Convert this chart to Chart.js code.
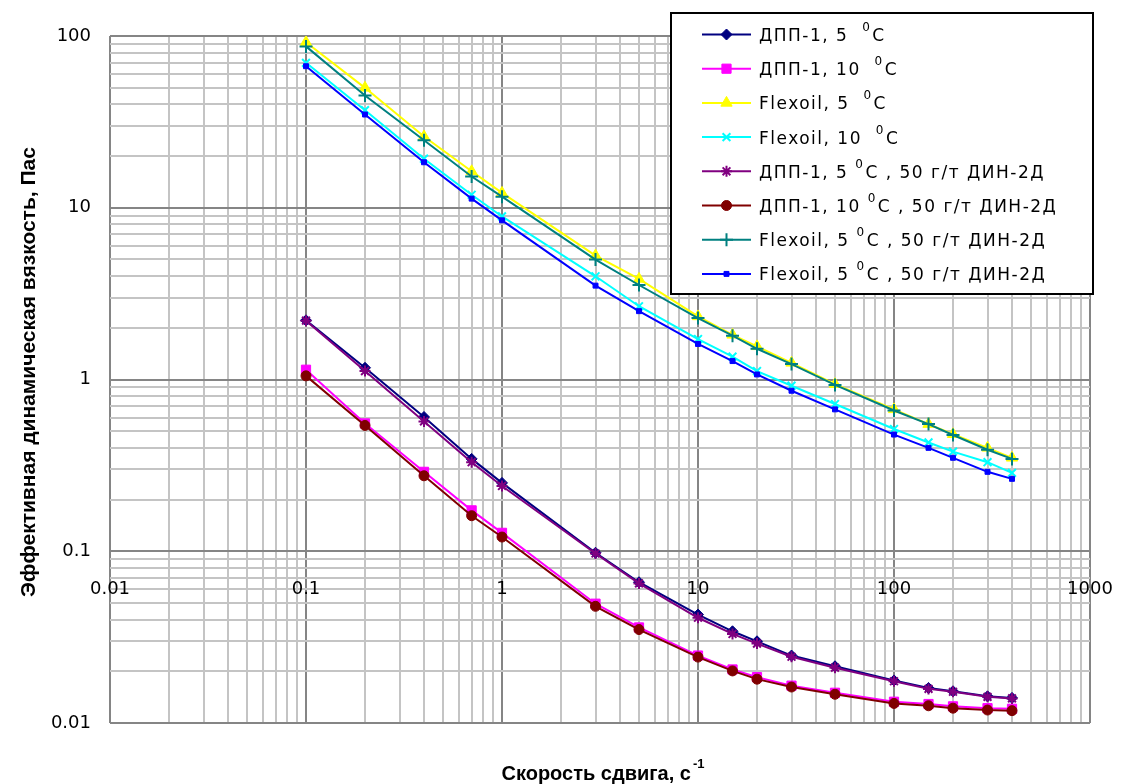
<!DOCTYPE html>
<html><head><meta charset="utf-8">
<script src="https://cdn.jsdelivr.net/npm/chart.js@4.4.1/dist/chart.umd.min.js"></script>
<style>html,body{margin:0;padding:0;background:#fff}canvas{display:block}</style>
</head><body>
<canvas id="c" width="1122" height="784"></canvas>
<script>
// ---- data ----
const shearRates = [0.1, 0.2, 0.4, 0.7, 1, 3, 5, 10, 15, 20, 30, 50, 100, 150, 200, 300, 400];
const dpp5 = [2.21, 1.17, 0.605, 0.345, 0.25, 0.098, 0.066, 0.0428, 0.0342, 0.0299, 0.0247, 0.0214, 0.0177, 0.016, 0.0153, 0.0143, 0.014];
const dpp10 = [1.14, 0.555, 0.29, 0.173, 0.128, 0.0495, 0.036, 0.0247, 0.0205, 0.0185, 0.0165, 0.015, 0.0133, 0.0129, 0.0125, 0.0122, 0.0121];
const flex5 = [92, 49.9, 26, 16.3, 12.2, 5.27, 3.85, 2.33, 1.82, 1.56, 1.25, 0.94, 0.67, 0.55, 0.48, 0.40, 0.35];
const flex10 = [69.8, 37, 19.3, 11.9, 8.9, 3.99, 2.67, 1.72, 1.36, 1.12, 0.92, 0.72, 0.515, 0.43, 0.38, 0.33, 0.286];
const dpp5Din = [2.2, 1.12, 0.57, 0.33, 0.24, 0.097, 0.065, 0.041, 0.033, 0.029, 0.0243, 0.021, 0.0175, 0.0158, 0.0152, 0.0142, 0.0139];
const dpp10Din = [1.05, 0.54, 0.275, 0.161, 0.121, 0.0478, 0.035, 0.0242, 0.0201, 0.018, 0.0162, 0.0147, 0.013, 0.0126, 0.0122, 0.0119, 0.0118];
const flex5Din = [87, 45, 24.7, 15.2, 11.6, 4.99, 3.55, 2.28, 1.80, 1.51, 1.23, 0.93, 0.66, 0.55, 0.475, 0.39, 0.345];
const flex5DinB = [66.7, 34.9, 18.4, 11.3, 8.45, 3.52, 2.50, 1.61, 1.28, 1.07, 0.86, 0.67, 0.478, 0.40, 0.35, 0.29, 0.264];

const seriesLabels = [
  'ДПП-1, 5  ⁰C',
  'ДПП-1, 10  ⁰C',
  'Flexoil, 5  ⁰C',
  'Flexoil, 10  ⁰C',
  'ДПП-1, 5 ⁰C , 50 г/т ДИН-2Д',
  'ДПП-1, 10 ⁰C , 50 г/т ДИН-2Д',
  'Flexoil, 5 ⁰C , 50 г/т ДИН-2Д',
  'Flexoil, 5 ⁰C , 50 г/т ДИН-2Д'
];
const seriesValues = [dpp5, dpp10, flex5, flex10, dpp5Din, dpp10Din, flex5Din, flex5DinB];

const xTickLabels = ['0.01', '0.1', '1', '10', '100', '1000'];
const yTickLabels = ['0.01', '0.1', '1', '10', '100'];
const xTitle = 'Скорость сдвига, с';
const xTitleSup = '-1';
const yTitle = 'Эффективная динамическая вязкость, Пас';

// ---- styles ----
const seriesStyles = [
  {color: '#000080', point: 'rectRot', r: 5.5, fill: true},
  {color: '#FF00FF', point: 'rect', r: 6.5, fill: true},
  {color: '#FFFF00', point: 'triangle', r: 6.5, fill: true},
  {color: '#00FFFF', point: 'crossRot', r: 5.5, fill: false},
  {color: '#800080', point: 'star', r: 5.5, fill: false},
  {color: '#800000', point: 'circle', r: 5, fill: true},
  {color: '#008080', point: 'cross', r: 6.5, fill: false},
  {color: '#0000FF', point: 'rect', r: 3.5, fill: true}
];

function logTicks(minExp, maxExp) {
  const t = [];
  for (let e = minExp; e < maxExp; e++) {
    for (let m = 1; m <= 9; m++) t.push({value: Number((m * Math.pow(10, e)).toPrecision(12))});
  }
  t.push({value: Math.pow(10, maxExp)});
  return t;
}
function isMajor(v) {
  const e = Math.log10(v);
  return Math.abs(e - Math.round(e)) < 1e-9;
}
const gridColor = (c) => (c.tick && isMajor(c.tick.value)) ? '#858585' : '#c4c4c4';

const datasets = seriesValues.map((vals, i) => {
  const s = seriesStyles[i];
  return {
    label: seriesLabels[i],
    data: shearRates.map((x, j) => ({x: x, y: vals[j]})),
    borderColor: s.color,
    backgroundColor: s.color,
    borderWidth: 2,
    pointStyle: s.point,
    pointRadius: s.r,
    pointBackgroundColor: s.color,
    pointBorderColor: s.color,
    pointBorderWidth: s.fill ? 1 : 2,
    tension: 0,
    order: seriesValues.length - i
  };
});

const LEG = {x: 671, y: 13, w: 422, h: 281, row0: 34.5, rowStep: 34.2, lineX1: 702, lineX2: 751, textX: 759};

const decorPlugin = {
  id: 'decor',
  afterDraw(chart) {
    const ctx = chart.ctx;
    // legend
    ctx.save();
    ctx.fillStyle = '#ffffff';
    ctx.fillRect(LEG.x, LEG.y, LEG.w, LEG.h);
    ctx.lineWidth = 2;
    ctx.strokeStyle = '#000000';
    ctx.strokeRect(LEG.x, LEG.y, LEG.w, LEG.h);
    chart.data.datasets.forEach((ds, i) => {
      const y = LEG.row0 + i * LEG.rowStep;
      ctx.strokeStyle = ds.borderColor;
      ctx.lineWidth = 2;
      ctx.beginPath(); ctx.moveTo(LEG.lineX1, y); ctx.lineTo(LEG.lineX2, y); ctx.stroke();
      ctx.fillStyle = ds.pointBackgroundColor;
      ctx.strokeStyle = ds.pointBorderColor;
      ctx.lineWidth = ds.pointBorderWidth;
      if (Chart.helpers && Chart.helpers.drawPoint) {
        Chart.helpers.drawPoint(ctx, {pointStyle: ds.pointStyle, radius: ds.pointRadius, borderWidth: ds.pointBorderWidth, rotation: 0}, (LEG.lineX1 + LEG.lineX2) / 2, y);
      }
      const parts = ds.label.split('⁰');
      ctx.fillStyle = '#000';
      ctx.textBaseline = 'alphabetic';
      ctx.textAlign = 'left';
      try { ctx.letterSpacing = '1.5px'; } catch (e) {}
      ctx.font = '17px "DejaVu Sans"';
      let x = LEG.textX;
      const base = y + 6.5;
      ctx.fillText(parts[0], x, base);
      x += ctx.measureText(parts[0]).width;
      if (parts.length > 1) {
        ctx.font = '12px "DejaVu Sans"';
        ctx.fillText('0', x, base - 10);
        x += ctx.measureText('0').width + 1;
        ctx.font = '17px "DejaVu Sans"';
        ctx.fillText(parts[1], x, base);
      }
    });
    ctx.restore();
    // x title
    ctx.save();
    ctx.fillStyle = '#000';
    ctx.textBaseline = 'alphabetic';
    ctx.textAlign = 'left';
    ctx.font = 'bold 20px "Liberation Sans"';
    const w1 = ctx.measureText(xTitle).width;
    ctx.font = 'bold 13px "Liberation Sans"';
    const w2 = ctx.measureText(xTitleSup).width;
    const cx = 603;
    const sx = cx - (w1 + w2 + 2) / 2;
    ctx.font = 'bold 20px "Liberation Sans"';
    ctx.fillText(xTitle, sx, 780);
    ctx.font = 'bold 13px "Liberation Sans"';
    ctx.fillText(xTitleSup, sx + w1 + 2, 768);
    ctx.restore();
    // y title
    ctx.save();
    ctx.fillStyle = '#000';
    ctx.translate(29, 372);
    ctx.rotate(-Math.PI / 2);
    ctx.textAlign = 'center';
    ctx.textBaseline = 'middle';
    ctx.font = 'bold 21px "Liberation Sans"';
    ctx.fillText(yTitle, 0, 0);
    ctx.restore();
  }
};

new Chart(document.getElementById('c'), {
  type: 'line',
  data: {datasets: datasets},
  options: {
    responsive: false,
    animation: false,
    devicePixelRatio: 1,
    layout: {padding: {left: 0, top: 36, right: 32, bottom: 61}},
    plugins: {legend: {display: false}, tooltip: {enabled: false}, title: {display: false}},
    scales: {
      x: {
        type: 'logarithmic',
        position: {y: 0.1},
        min: 0.01, max: 1000,
        afterBuildTicks: (s) => { s.ticks = logTicks(-2, 3); },
        afterFit: (s) => { s.paddingLeft = 0; s.paddingRight = 0; },
        ticks: {
          autoSkip: false, maxRotation: 0, padding: 27, color: '#000',
          font: {family: '"DejaVu Sans"', size: 18},
          callback: (v) => isMajor(v) ? xTickLabels[Math.round(Math.log10(v)) + 2] : ''
        },
        grid: {color: gridColor, lineWidth: 2, drawTicks: false},
        border: {display: false}
      },
      y: {
        type: 'logarithmic',
        position: 'left',
        min: 0.01, max: 100,
        afterBuildTicks: (s) => { s.ticks = logTicks(-2, 2); },
        afterFit: (s) => { s.width = 110; s.paddingTop = 0; s.paddingBottom = 0; },
        ticks: {
          autoSkip: false, padding: 19, color: '#000',
          font: {family: '"DejaVu Sans"', size: 18},
          callback: (v) => isMajor(v) ? yTickLabels[Math.round(Math.log10(v)) + 2] : ''
        },
        grid: {color: gridColor, lineWidth: 2, drawTicks: false},
        border: {display: false},
        title: {display: false}
      }
    }
  },
  plugins: [decorPlugin]
});
</script>
</body></html>
